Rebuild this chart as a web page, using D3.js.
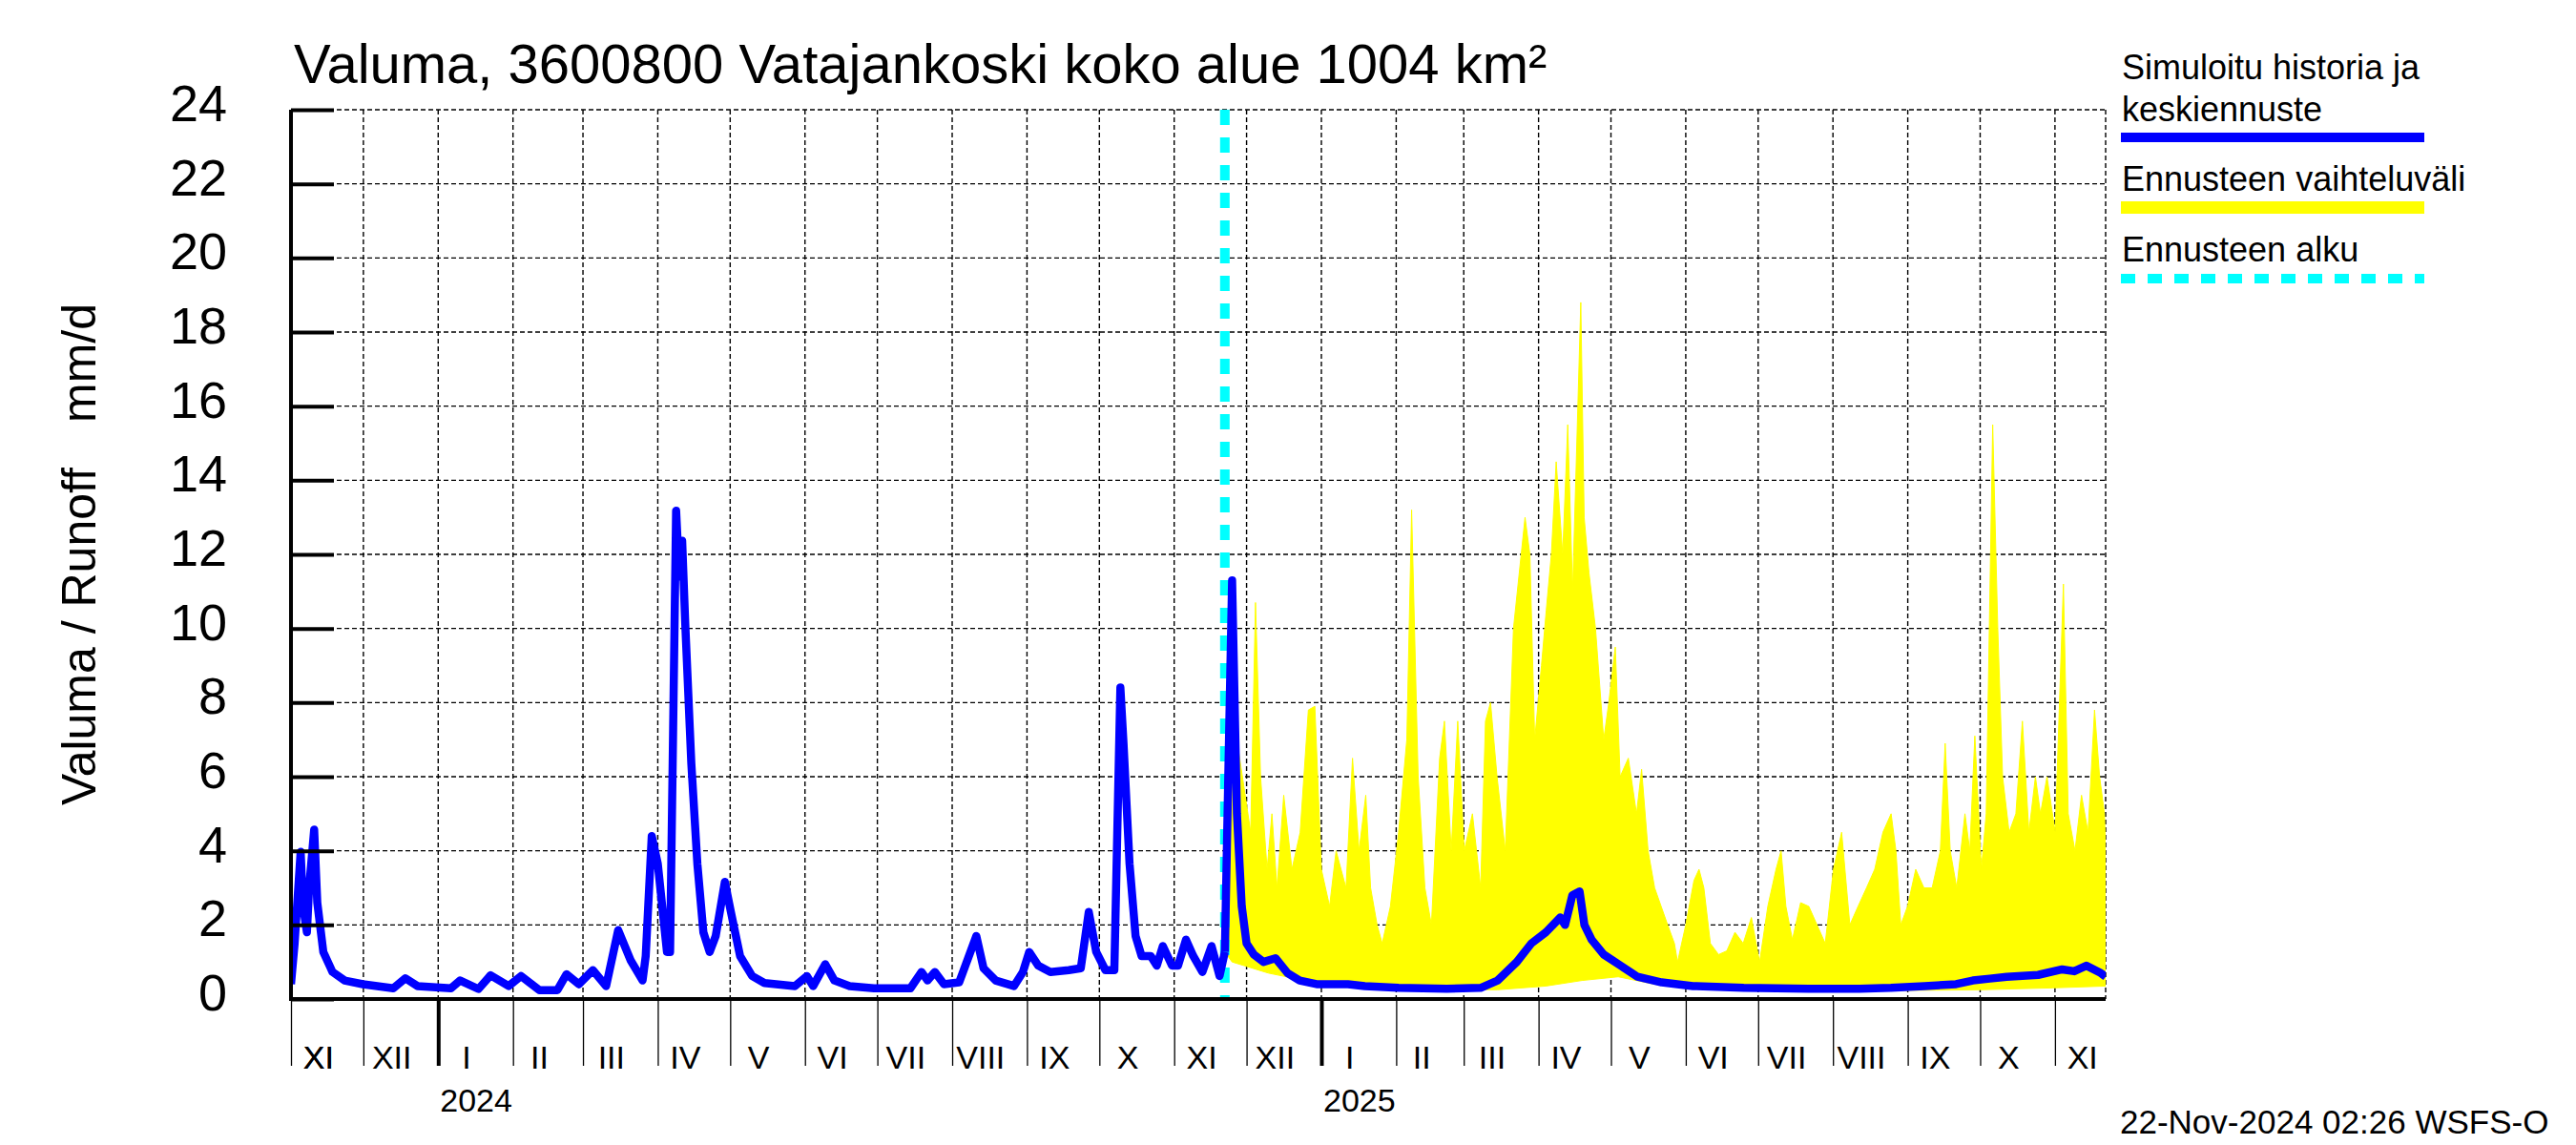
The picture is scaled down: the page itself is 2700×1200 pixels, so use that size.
<!DOCTYPE html>
<html><head><meta charset="utf-8">
<script src="https://cdn.jsdelivr.net/npm/d3@7"></script>
<style>
body{margin:0;background:#fff}
svg{display:block}
text{font-family:"Liberation Sans",Arial,Helvetica,sans-serif;fill:#000}
</style>
</head><body>
<svg id="chart" width="2700" height="1200"></svg>
<script>
// ---------- DATA ----------
const startDate = "2023-11-01";
const endDate = "2025-11-22";
const forecastDate = "2024-11-22";

// simulated history: day offset from startDate, runoff mm/d
const histDay = [0,1.5,4,5,6.6,7.5,9.6,10.9,13.4,17.2,22.2,29.8,42.4,47.4,52.4,66.3,70.1,77.7,82.7,90.2,95.3,102.9,110.4,114.2,119.3,125.1,130.6,135.6,140.7,145.7,147,149.5,152,155.8,157.1,159.6,160.9,162.1,163.4,165.9,168.4,170.9,173.5,176,179.8,182.3,186.1,191.1,196.2,208.8,213.8,216.4,221.4,225.2,231.5,241.6,256.7,261.3,263.8,266.8,270.6,276.9,284,287,292,299.6,303.3,305.9,309.7,314.7,322.3,327.3,330.6,333.7,337.5,341.2,343.7,345,347.5,350,352.5,356.3,358.8,361.3,365.1,367.6,370.9,373.9,377.7,381.5,384.8,387];
const histVal = [0.4,1.5,3.97,2.5,1.8,3.0,4.57,2.6,1.27,0.73,0.5,0.4,0.29,0.56,0.35,0.29,0.5,0.27,0.64,0.35,0.62,0.24,0.24,0.67,0.4,0.78,0.35,1.86,1.05,0.5,1.16,4.4,3.65,1.27,1.27,13.18,11.4,12.37,10.1,6.36,3.65,1.8,1.27,1.7,3.16,2.35,1.16,0.62,0.43,0.35,0.62,0.35,0.94,0.5,0.35,0.29,0.29,0.73,0.5,0.73,0.4,0.45,1.7,0.83,0.5,0.35,0.73,1.27,0.9,0.73,0.78,0.83,2.35,1.27,0.78,0.78,8.41,6.9,3.65,1.7,1.16,1.16,0.9,1.43,0.9,0.9,1.6,1.16,0.73,1.43,0.62,1.27];

// forecast mean
const fcDay = [387,390,392,394,396,399,403,408,413,418,425,438,445,459,479,493,500,508,514,520,526,528,531,534,536,539,544,551,558,568,581,602,629,650,663,677,690,697,704,711,724,734,739,744,750,752];
const fcVal = [1.27,11.3,5,2.5,1.5,1.2,1.0,1.1,0.7,0.5,0.4,0.4,0.35,0.3,0.28,0.3,0.5,1.0,1.5,1.8,2.2,2.0,2.8,2.9,2.0,1.6,1.2,0.9,0.6,0.45,0.35,0.3,0.28,0.28,0.3,0.35,0.4,0.5,0.55,0.6,0.65,0.8,0.75,0.9,0.7,0.6];

// forecast range: upper edge
const bandMaxDay = [387,390,392,397.7,399.7,401.8,404.5,406.5,408.6,411.4,414.8,418.2,421.6,424.3,427,430.4,433.1,437.2,439.9,442.6,445.4,447.4,450.1,452.2,455.6,459,462.4,464.4,467.1,469.9,472.6,476,478,480.8,483.5,486.2,489.6,493,495,497.1,499.8,503.2,506.6,511.4,513.4,515.4,518.2,520.2,522.3,524.3,527,529.1,531.1,534.5,535.9,537.9,540.6,544,546.1,548.8,550.8,554.2,557.6,559.7,562.4,565.1,567.8,570.5,573.3,574.6,578,581.4,583.5,585.5,588.2,591.6,595,598.4,601.8,605.2,608.6,612,615.4,617.5,619.5,622.2,625.6,629,632.4,635.8,639.2,642.6,646,649.4,652.9,656.3,659.7,663.1,665.1,667.1,669.9,673.3,676.7,680.1,683.5,685.5,687.6,690.3,693.7,695.7,697.8,700.5,702.5,705.2,707.3,709.3,712,714.8,717.5,720.2,722.9,725,727.7,731.1,734.5,736.5,739.3,742,744.7,747.4,749.5,751.5,752];
const bandMax = [1.27,11.3,7,4.5,10.7,6,3.5,5,3,5.5,3.5,4.5,7.8,7.9,3.5,2.5,4,3,6.5,4,5.5,3,2,1.5,2.5,4.5,7,13.2,6,3,2,6.5,7.5,4,7.5,4,5,3,7.5,8,6,4,10,13,12,7,9,10.5,12,14.5,12,15.5,11,18.8,13,11.5,10,7,8,9.5,6,6.5,5,6.2,4,3,2.5,2,1.5,1.0,2,3.2,3.5,3,1.5,1.2,1.3,1.8,1.5,2.2,1.0,2.5,3.5,4,2.5,1.6,2.6,2.5,2,1.5,3.5,4.5,2,2.5,3,3.5,4.5,5,4,2,2.5,3.5,3,3,4,6.9,4,3,5,4,7.1,3.5,5,15.5,10,6,4.5,5,7.5,4.5,6,5,6,4.5,11.2,5,4,5.5,4.5,7.8,6,5,4];

// forecast range: lower edge
const bandMinDay = [387,390,395,405,420,440,470,500,520,535,550,565,580,600,650,700,730,752];
const bandMin = [1.27,1.0,0.9,0.7,0.5,0.35,0.25,0.25,0.35,0.5,0.6,0.4,0.3,0.25,0.22,0.25,0.3,0.35];

const yTicks = [0,2,4,6,8,10,12,14,16,18,20,22,24];
const monthNames = ["I","II","III","IV","V","VI","VII","VIII","IX","X","XI","XII"];

const titleText = "Valuma, 3600800 Vatajankoski koko alue 1004 km²";
const yTitle1 = "Valuma / Runoff";
const yTitle2 = "mm/d";
const legendLabels = ["Simuloitu historia ja","keskiennuste","Ennusteen vaihteluväli","Ennusteen alku"];
const stampText = "22-Nov-2024 02:26 WSFS-O";

// ---------- LAYOUT ----------
const L = 305, R = 2207, T = 115, B = 1047;
const svg = d3.select("#chart");
const t0 = d3.utcParse("%Y-%m-%d")(startDate);
const t1 = d3.utcParse("%Y-%m-%d")(endDate);
const tf = d3.utcParse("%Y-%m-%d")(forecastDate);
const dayDate = d => new Date(t0.getTime() + d * 864e5);

const x = d3.scaleUtc().domain([t0, t1]).range([L, R]);
const y = d3.scaleLinear().domain([0, 24]).range([B, T]);

// grid
const months = d3.utcMonth.range(d3.utcMonth.ceil(t0), t1);
const gridG = svg.append("g");
gridG.selectAll("line.hg").data(yTicks).join("line")
  .attr("x1", L).attr("x2", R).attr("y1", d => y(d)).attr("y2", d => y(d))
  .attr("stroke", "#000").attr("stroke-width", 1.4).attr("stroke-dasharray", "5,3");
gridG.selectAll("line.vg").data(months.concat([t1])).join("line")
  .attr("x1", d => x(d)).attr("x2", d => x(d)).attr("y1", T).attr("y2", B)
  .attr("stroke", "#000").attr("stroke-width", 1.4).attr("stroke-dasharray", "5,3");

// clip
svg.append("clipPath").attr("id", "pc").append("rect")
  .attr("x", L).attr("y", T).attr("width", R - L).attr("height", B - T);
const plot = svg.append("g").attr("clip-path", "url(#pc)");

// band
const upper = bandMaxDay.map((d, i) => [d, bandMax[i]]);
const lower = bandMinDay.map((d, i) => [d, bandMin[i]]).reverse();
const pl = d3.line().x(d => x(dayDate(d[0]))).y(d => y(d[1]));
plot.append("path").attr("d", pl(upper.concat(lower)) + "Z")
  .attr("fill", "#ffff00").attr("stroke", "#ffff00").attr("stroke-width", 1);

// forecast start line
plot.append("line").attr("x1", x(tf)).attr("x2", x(tf)).attr("y1", T).attr("y2", B)
  .attr("stroke", "#00ffff").attr("stroke-width", 10).attr("stroke-dasharray", "16,13");

// blue lines
const hist = histDay.map((d, i) => [d, histVal[i]]);
const fc = fcDay.map((d, i) => [d, fcVal[i]]);
[hist, fc].forEach(s => plot.append("path").attr("d", pl(s))
  .attr("fill", "none").attr("stroke", "#0000ff").attr("stroke-width", 8.5)
  .attr("stroke-linejoin", "round"));

// axes
const yAxis = d3.axisLeft(y).tickValues(yTicks).tickSize(-45).tickFormat(d3.format("d"));
const ya = svg.append("g").attr("transform", `translate(${L},0)`).call(yAxis);
ya.select(".domain").remove();
ya.selectAll(".tick line").attr("stroke", "#000").attr("stroke-width", 4);
ya.selectAll(".tick text").attr("font-size", 54).attr("dy", null).attr("y", 11.5)
  .attr("x", 238 - L).attr("text-anchor", "end")
  .style("font-family", '"Liberation Sans",Arial,sans-serif');

const xAxis = d3.axisBottom(x).tickValues(months).tickSize(70).tickFormat("");
const xa = svg.append("g").attr("transform", `translate(0,${B})`).call(xAxis);
xa.select(".domain").remove();
xa.selectAll(".tick line").attr("stroke", "#000")
  .attr("stroke-width", d => d.getUTCMonth() === 0 ? 4 : 1.3);

svg.append("line").attr("x1", L).attr("x2", L).attr("y1", T).attr("y2", B + 2)
  .attr("stroke", "#000").attr("stroke-width", 4);
svg.append("line").attr("x1", L - 2).attr("x2", R).attr("y1", B).attr("y2", B)
  .attr("stroke", "#000").attr("stroke-width", 4);

// month labels
const monthStarts = [t0].concat(months);
svg.append("g").selectAll("text").data(monthStarts).join("text")
  .attr("x", d => { const n = d3.utcMonth.offset(d, 1); return x(d) + (x(n) - x(d)) * 0.38; })
  .attr("y", 1120).attr("text-anchor", "middle").attr("font-size", 34)
  .text(d => monthNames[d.getUTCMonth()]);

// year labels
svg.append("g").selectAll("text").data(months.filter(d => d.getUTCMonth() === 0)).join("text")
  .attr("x", d => x(d) + 2).attr("y", 1165).attr("font-size", 34)
  .text(d => d3.utcFormat("%Y")(d));

// title
svg.append("text").attr("x", 308).attr("y", 87).attr("font-size", 58).text(titleText);

// y-axis title
svg.append("text").attr("transform", "translate(100,844) rotate(-90)")
  .attr("font-size", 50).text(yTitle1);
svg.append("text").attr("transform", "translate(100,318) rotate(-90)")
  .attr("font-size", 50).attr("text-anchor", "end").text(yTitle2);

// legend
const lg = svg.append("g");
lg.append("text").attr("x", 2224).attr("y", 83).attr("font-size", 36).text(legendLabels[0]);
lg.append("text").attr("x", 2224).attr("y", 127).attr("font-size", 36).text(legendLabels[1]);
lg.append("line").attr("x1", 2223).attr("x2", 2541).attr("y1", 144).attr("y2", 144)
  .attr("stroke", "#0000ff").attr("stroke-width", 10);
lg.append("text").attr("x", 2224).attr("y", 200).attr("font-size", 36).text(legendLabels[2]);
lg.append("line").attr("x1", 2223).attr("x2", 2541).attr("y1", 217.5).attr("y2", 217.5)
  .attr("stroke", "#ffff00").attr("stroke-width", 13);
lg.append("text").attr("x", 2224).attr("y", 274).attr("font-size", 36).text(legendLabels[3]);
lg.append("line").attr("x1", 2223).attr("x2", 2541).attr("y1", 292).attr("y2", 292)
  .attr("stroke", "#00ffff").attr("stroke-width", 10).attr("stroke-dasharray", "15,13");

// timestamp
svg.append("text").attr("x", 2222).attr("y", 1188).attr("font-size", 35).text(stampText);
</script>
</body></html>
